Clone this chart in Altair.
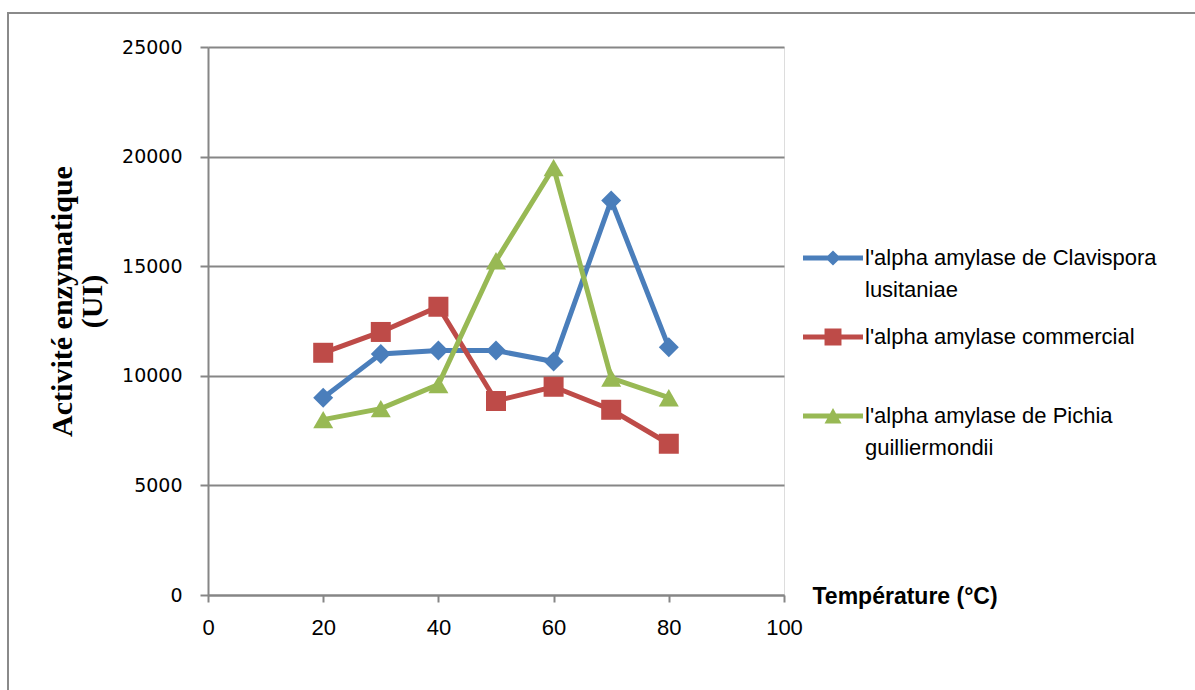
import json
import altair as alt
import pandas as pd

# ---- data ----
temps = [20, 30, 40, 50, 60, 70, 80]
clavispora = [9000, 11000, 11150, 11150, 10650, 18000, 11300]
commercial = [11050, 12000, 13150, 8850, 9500, 8450, 6900]
pichia = [8000, 8500, 9600, 15250, 19500, 9900, 9000]

series_names = [
    "l'alpha amylase de Clavispora lusitaniae",
    "l'alpha amylase commercial",
    "l'alpha amylase  de Pichia guilliermondii",
]
legend_lines = [
    ["l'alpha amylase de Clavispora", "lusitaniae"],
    ["l'alpha amylase commercial", " "],
    ["l'alpha amylase  de Pichia", "guilliermondii"],
]
colors = ["#4A7EBB", "#BE4B48", "#98B954"]
shapes = ["diamond", "square", "triangle-up"]
legend_shapes = [
    "M-3.75,-0.31L-0.64,-0.31L0,-0.95L0.64,-0.31L3.75,-0.31L3.75,0.31L0.64,0.31L0,0.95L-0.64,0.31L-3.75,0.31Z",
    "M-3.75,-0.31L-1.06,-0.31L-1.06,-1.06L1.06,-1.06L1.06,-0.31L3.75,-0.31L3.75,0.31L1.06,0.31L1.06,1.06L-1.06,1.06L-1.06,0.31L-3.75,0.31Z",
    "M-3.75,-0.31L-0.375,-0.31L0,-1L0.375,-0.31L3.75,-0.31L3.75,0.31L0.712,0.31L1.06,0.95L-1.06,0.95L-0.712,0.31L-3.75,0.31Z",
]
x_ticks = [0, 20, 40, 60, 80, 100]
y_ticks = [0, 5000, 10000, 15000, 20000, 25000]

rows = []
for name, vals in zip(series_names, [clavispora, commercial, pichia]):
    for t, v in zip(temps, vals):
        rows.append({"temp": t, "val": v, "serie": name})
df = pd.DataFrame(rows)

label_expr = ""
for name, lines in zip(series_names, legend_lines):
    label_expr += f"datum.value === {json.dumps(name)} ? {json.dumps(lines)} : "
label_expr += "datum.label"

GRAY = "#868686"

x_enc = alt.X(
    "temp:Q",
    scale=alt.Scale(domain=[0, 100], nice=False),
    axis=alt.Axis(
        values=x_ticks, grid=False, title="Température (°C)",
        titleX=604, titleY=1, titleAlign="left", titleBaseline="middle",
        titleAngle=0, titleFont="Liberation Sans", titleFontSize=23,
        titleFontWeight="bold", titleColor="black",
        labelFont="Liberation Sans", labelFontSize=22, labelColor="black",
        labelPadding=15, tickSize=7, tickColor=GRAY, tickWidth=2,
        labelFlush=False, labelOverlap=False,
        domainColor=GRAY, domainWidth=2,
    ),
)
y_enc = alt.Y(
    "val:Q",
    scale=alt.Scale(domain=[0, 25000], nice=False),
    axis=alt.Axis(
        values=y_ticks, grid=True, gridColor=GRAY, gridWidth=2, format="d",
        title=["Activité enzymatique", "(UI)"],
        titleX=-161, titleY=254, titleAngle=270, titleAlign="center",
        titleBaseline="top", titleFont="Liberation Serif", titleFontSize=30,
        titleFontWeight="bold", titleColor="black", titleLineHeight=30,
        labelFont="DejaVu Sans", labelFontSize=19, labelColor="black",
        labelPadding=18, tickSize=8, tickColor=GRAY, tickWidth=2,
        labelFlush=False, labelOverlap=False,
        domainColor=GRAY, domainWidth=2,
    ),
)

color_scale = alt.Scale(domain=series_names, range=colors)

frame = alt.Chart(pd.DataFrame({"a": [0]})).mark_rect(
    fillOpacity=0, stroke="#8a8a8a", strokeWidth=2
).encode(
    x=alt.value(-200), x2=alt.value(1000), y=alt.value(-34), y2=alt.value(660)
)

lines = alt.Chart(df).mark_line(strokeWidth=5).encode(
    x=x_enc, y=y_enc,
    color=alt.Color("serie:N", scale=color_scale, legend=None),
    detail="serie:N",
)

points = alt.Chart(df).mark_point(filled=True, size=400, opacity=1).encode(
    x="temp:Q", y="val:Q",
    color=alt.Color("serie:N", scale=color_scale, legend=None),
    shape=alt.Shape("serie:N", scale=alt.Scale(domain=series_names, range=shapes), legend=None),
)

legend_kw = dict(
    title=None, orient="none", legendX=614, legendY=200,
    labelExpr=label_expr, labelFont="Liberation Sans", labelFontSize=22,
    labelColor="black", labelOffset=21,
    labelLimit=0, symbolSize=256, symbolOpacity=1, symbolStrokeWidth=0,
    rowPadding=25, padding=0,
)

legend_layer = alt.Chart(df).mark_point(filled=True, opacity=0).encode(
    x="temp:Q", y="val:Q",
    color=alt.Color(
        "serie:N", scale=alt.Scale(domain=series_names, range=colors),
        legend=alt.Legend(**legend_kw),
    ),
    shape=alt.Shape(
        "serie:N", scale=alt.Scale(domain=series_names, range=legend_shapes),
        legend=alt.Legend(**legend_kw),
    ),
)

chart = (
    alt.layer(frame, lines, points, legend_layer)
    .resolve_scale(shape="independent", color="independent")
    .properties(
        width=576, height=548,
        autosize=alt.AutoSizeParams(type="none"),
        padding={"left": 208, "top": 47, "right": 411, "bottom": 95},
        background="white",
    )
    .configure_view(stroke="transparent")
    .configure(style={"guide-label": {"lineHeight": 32}})
)

chart.save("out.html", embed_options={"renderer": "svg", "actions": False})
